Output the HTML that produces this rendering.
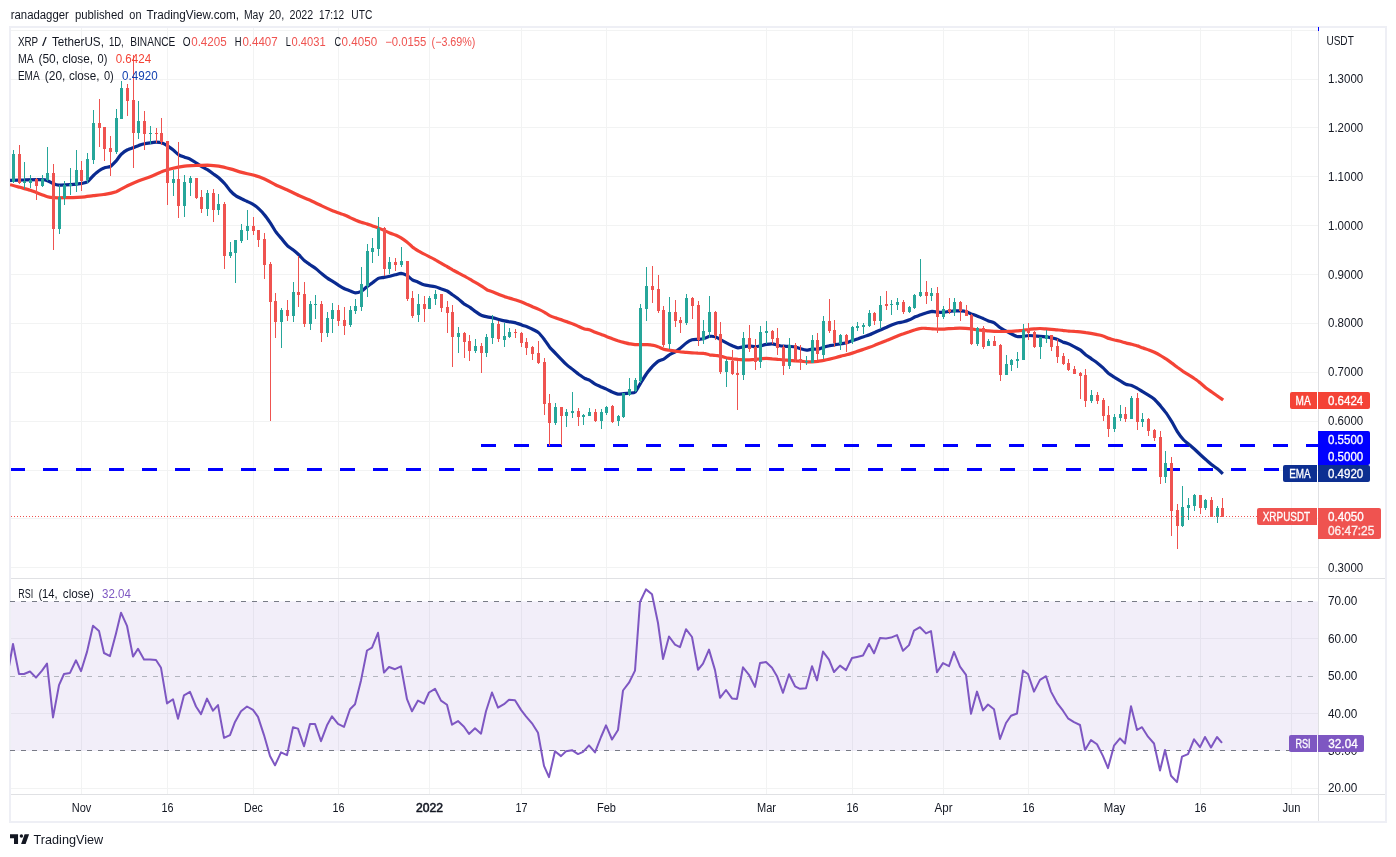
<!DOCTYPE html>
<html><head><meta charset="utf-8"><title>XRP / TetherUS chart</title>
<style>html,body{margin:0;padding:0;background:#fff}body{width:1396px;height:857px;position:relative;overflow:hidden}text{white-space:pre}</style></head>
<body>
<svg width="1396" height="857" viewBox="0 0 1396 857" style="position:absolute;left:0;top:0">
<rect x="10" y="27" width="1376" height="795" fill="#fff" stroke="#eeeff5" stroke-width="2" shape-rendering="crispEdges"/>
<g stroke="#f2f3f3" stroke-width="1" shape-rendering="crispEdges">
<line x1="81.5" y1="28" x2="81.5" y2="578"/>
<line x1="81.5" y1="579" x2="81.5" y2="794"/>
<line x1="167.5" y1="28" x2="167.5" y2="578"/>
<line x1="167.5" y1="579" x2="167.5" y2="794"/>
<line x1="253.5" y1="28" x2="253.5" y2="578"/>
<line x1="253.5" y1="579" x2="253.5" y2="794"/>
<line x1="338.5" y1="28" x2="338.5" y2="578"/>
<line x1="338.5" y1="579" x2="338.5" y2="794"/>
<line x1="429.5" y1="28" x2="429.5" y2="578"/>
<line x1="429.5" y1="579" x2="429.5" y2="794"/>
<line x1="521.5" y1="28" x2="521.5" y2="578"/>
<line x1="521.5" y1="579" x2="521.5" y2="794"/>
<line x1="606.5" y1="28" x2="606.5" y2="578"/>
<line x1="606.5" y1="579" x2="606.5" y2="794"/>
<line x1="766.5" y1="28" x2="766.5" y2="578"/>
<line x1="766.5" y1="579" x2="766.5" y2="794"/>
<line x1="852.5" y1="28" x2="852.5" y2="578"/>
<line x1="852.5" y1="579" x2="852.5" y2="794"/>
<line x1="943.5" y1="28" x2="943.5" y2="578"/>
<line x1="943.5" y1="579" x2="943.5" y2="794"/>
<line x1="1028.5" y1="28" x2="1028.5" y2="578"/>
<line x1="1028.5" y1="579" x2="1028.5" y2="794"/>
<line x1="1114.5" y1="28" x2="1114.5" y2="578"/>
<line x1="1114.5" y1="579" x2="1114.5" y2="794"/>
<line x1="1200.5" y1="28" x2="1200.5" y2="578"/>
<line x1="1200.5" y1="579" x2="1200.5" y2="794"/>
<line x1="1291.5" y1="28" x2="1291.5" y2="578"/>
<line x1="1291.5" y1="579" x2="1291.5" y2="794"/>
<line x1="11" y1="30.5" x2="1318" y2="30.5"/>
<line x1="11" y1="79.5" x2="1318" y2="79.5"/>
<line x1="11" y1="127.5" x2="1318" y2="127.5"/>
<line x1="11" y1="176.5" x2="1318" y2="176.5"/>
<line x1="11" y1="225.5" x2="1318" y2="225.5"/>
<line x1="11" y1="274.5" x2="1318" y2="274.5"/>
<line x1="11" y1="323.5" x2="1318" y2="323.5"/>
<line x1="11" y1="372.5" x2="1318" y2="372.5"/>
<line x1="11" y1="421.5" x2="1318" y2="421.5"/>
<line x1="11" y1="470.5" x2="1318" y2="470.5"/>
<line x1="11" y1="518.5" x2="1318" y2="518.5"/>
<line x1="11" y1="567.5" x2="1318" y2="567.5"/>
<line x1="11" y1="638.5" x2="1318" y2="638.5"/>
<line x1="11" y1="713.5" x2="1318" y2="713.5"/>
<line x1="11" y1="788.5" x2="1318" y2="788.5"/>
</g>
<rect x="11" y="601.4" width="1307" height="149.5" fill="#7e57c2" fill-opacity="0.1"/>
<g shape-rendering="crispEdges" stroke-width="1">
<line x1="10" y1="601.5" x2="1318" y2="601.5" stroke="#787b86" stroke-dasharray="5 6"/>
<line x1="10" y1="676.5" x2="1318" y2="676.5" stroke="#b2b5be" stroke-dasharray="5 6"/>
<line x1="10" y1="750.5" x2="1318" y2="750.5" stroke="#787b86" stroke-dasharray="5 6"/>
</g>
<g stroke="#e0e1e4" stroke-width="1" shape-rendering="crispEdges">
<line x1="11" y1="578.5" x2="1385" y2="578.5"/>
<line x1="11" y1="794.5" x2="1385" y2="794.5"/>
<line x1="1318.5" y1="28" x2="1318.5" y2="821"/>
</g>
<defs><clipPath id="cp"><rect x="10" y="28" width="1308" height="550"/></clipPath><clipPath id="cr"><rect x="10" y="579" width="1308" height="215"/></clipPath></defs>
<g fill="#0000ff" shape-rendering="crispEdges">
<rect x="481" y="444" width="15" height="3"/><rect x="514" y="444" width="15" height="3"/><rect x="547" y="444" width="15" height="3"/><rect x="580" y="444" width="15" height="3"/><rect x="613" y="444" width="15" height="3"/><rect x="646" y="444" width="15" height="3"/><rect x="679" y="444" width="15" height="3"/><rect x="712" y="444" width="15" height="3"/><rect x="745" y="444" width="15" height="3"/><rect x="778" y="444" width="15" height="3"/><rect x="811" y="444" width="15" height="3"/><rect x="844" y="444" width="15" height="3"/><rect x="877" y="444" width="15" height="3"/><rect x="910" y="444" width="15" height="3"/><rect x="943" y="444" width="15" height="3"/><rect x="976" y="444" width="15" height="3"/><rect x="1009" y="444" width="15" height="3"/><rect x="1042" y="444" width="15" height="3"/><rect x="1075" y="444" width="15" height="3"/><rect x="1108" y="444" width="15" height="3"/><rect x="1141" y="444" width="15" height="3"/><rect x="1174" y="444" width="15" height="3"/><rect x="1207" y="444" width="15" height="3"/><rect x="1240" y="444" width="15" height="3"/><rect x="1273" y="444" width="15" height="3"/><rect x="1306" y="444" width="12" height="3"/>
<rect x="11" y="468" width="14" height="3"/><rect x="43" y="468" width="15" height="3"/><rect x="76" y="468" width="15" height="3"/><rect x="109" y="468" width="15" height="3"/><rect x="142" y="468" width="15" height="3"/><rect x="175" y="468" width="15" height="3"/><rect x="208" y="468" width="15" height="3"/><rect x="241" y="468" width="15" height="3"/><rect x="274" y="468" width="15" height="3"/><rect x="307" y="468" width="15" height="3"/><rect x="340" y="468" width="15" height="3"/><rect x="373" y="468" width="15" height="3"/><rect x="406" y="468" width="15" height="3"/><rect x="439" y="468" width="15" height="3"/><rect x="472" y="468" width="15" height="3"/><rect x="505" y="468" width="15" height="3"/><rect x="538" y="468" width="15" height="3"/><rect x="571" y="468" width="15" height="3"/><rect x="604" y="468" width="15" height="3"/><rect x="637" y="468" width="15" height="3"/><rect x="670" y="468" width="15" height="3"/><rect x="703" y="468" width="15" height="3"/><rect x="736" y="468" width="15" height="3"/><rect x="769" y="468" width="15" height="3"/><rect x="802" y="468" width="15" height="3"/><rect x="835" y="468" width="15" height="3"/><rect x="868" y="468" width="15" height="3"/><rect x="901" y="468" width="15" height="3"/><rect x="934" y="468" width="15" height="3"/><rect x="967" y="468" width="15" height="3"/><rect x="1000" y="468" width="15" height="3"/><rect x="1033" y="468" width="15" height="3"/><rect x="1066" y="468" width="15" height="3"/><rect x="1099" y="468" width="15" height="3"/><rect x="1132" y="468" width="15" height="3"/><rect x="1165" y="468" width="15" height="3"/><rect x="1198" y="468" width="15" height="3"/><rect x="1231" y="468" width="15" height="3"/><rect x="1264" y="468" width="15" height="3"/>
</g>
<g clip-path="url(#cp)" fill="none" stroke-linejoin="round" stroke-linecap="butt">
<path d="M10.0,180.4C11.7,180.3 21.1,179.8 25.0,179.8C28.8,179.7 41.8,179.4 44.9,179.8C48.0,180.2 51.3,182.8 52.9,183.4C54.4,184.0 56.9,185.0 58.9,185.1C60.9,185.3 68.3,184.9 70.8,184.7C73.4,184.5 80.0,183.7 81.8,183.4C83.7,183.0 86.1,182.6 87.4,181.8C88.7,180.9 91.9,177.0 93.2,175.8C94.5,174.6 97.7,171.7 99.0,170.8C100.2,169.9 103.3,168.3 104.6,167.8C105.8,167.3 109.1,167.2 110.4,166.5C111.7,165.7 114.9,162.2 116.2,160.8C117.4,159.3 120.5,155.0 121.8,153.8C123.0,152.6 126.3,150.4 127.5,149.8C128.8,149.1 131.9,148.3 133.1,147.8C134.4,147.3 137.7,145.8 138.9,145.4C140.2,145.0 143.2,144.1 144.5,143.8C145.8,143.5 149.0,143.0 150.3,142.8C151.6,142.6 154.8,142.2 156.1,142.2C157.3,142.2 160.4,142.4 161.7,142.8C162.9,143.2 166.2,145.0 167.5,145.8C168.7,146.6 171.8,148.8 173.0,149.8C174.3,150.8 177.5,154.0 178.8,154.8C180.1,155.6 183.3,156.7 184.6,157.2C185.9,157.7 188.9,158.5 190.2,159.2C191.5,159.8 194.7,161.9 196.0,162.8C197.3,163.6 200.5,166.0 201.8,166.7C203.0,167.5 206.1,169.0 207.4,169.7C208.6,170.5 211.9,172.8 213.1,173.7C214.4,174.6 217.4,176.6 218.7,177.7C220.0,178.9 223.7,182.5 225.0,184.0C226.3,185.4 229.2,189.6 230.4,190.9C231.6,192.3 234.7,195.1 236.0,195.9C237.2,196.8 240.5,198.3 241.8,198.9C243.0,199.6 246.1,200.9 247.3,201.5C248.6,202.1 251.8,203.5 253.1,204.3C254.4,205.1 257.7,207.7 258.9,208.9C260.2,210.1 263.2,213.3 264.5,214.9C265.8,216.4 269.0,221.0 270.3,222.9C271.6,224.8 274.6,230.1 275.9,231.9C277.1,233.6 280.4,237.3 281.7,238.8C282.9,240.4 286.2,244.6 287.5,245.8C288.7,247.0 291.8,248.8 293.0,249.8C294.3,250.8 297.5,253.6 298.8,254.8C300.1,256.0 303.3,259.7 304.6,260.8C305.9,261.9 308.9,263.9 310.2,264.8C311.5,265.7 314.7,267.8 316.0,268.8C317.3,269.8 320.5,272.7 321.8,273.8C323.0,274.8 326.1,277.3 327.4,278.1C328.6,279.0 331.9,280.9 333.1,281.7C334.4,282.5 337.5,284.5 338.7,285.3C340.0,286.1 343.3,288.1 344.5,288.7C345.7,289.3 348.6,290.3 349.8,290.8C351.0,291.2 354.1,292.7 355.4,292.8C356.6,292.8 359.9,292.0 361.2,291.4C362.4,290.7 365.7,287.7 366.9,286.8C368.2,285.8 371.3,283.7 372.5,282.8C373.8,281.9 377.1,279.0 378.3,278.4C379.6,277.8 382.6,277.7 383.9,277.4C385.2,277.2 388.4,276.5 389.7,276.2C391.0,275.9 394.0,275.1 395.3,274.8C396.5,274.5 399.8,273.4 401.1,273.4C402.4,273.5 405.6,274.7 406.9,275.4C408.1,276.1 411.2,279.1 412.4,279.8C413.7,280.6 417.0,281.6 418.2,282.2C419.5,282.8 422.5,284.4 423.8,284.8C425.1,285.2 428.3,285.6 429.6,285.8C430.9,286.0 434.1,286.5 435.4,286.8C436.6,287.1 439.7,288.3 441.0,288.8C442.2,289.2 445.5,290.1 446.8,290.8C448.0,291.4 451.3,293.9 452.5,294.8C453.8,295.7 456.9,297.8 458.1,298.8C459.4,299.8 462.6,302.8 463.9,303.8C465.3,304.7 469.0,306.6 470.4,307.6C471.7,308.5 474.7,311.1 476.0,311.9C477.2,312.8 480.5,315.0 481.8,315.5C483.0,316.1 486.1,316.7 487.3,316.9C488.6,317.2 491.8,317.6 493.1,317.9C494.4,318.2 497.7,319.2 498.9,319.5C500.2,319.9 503.2,320.7 504.5,320.9C505.8,321.2 509.0,321.7 510.3,321.9C511.6,322.1 514.6,322.6 515.9,322.9C517.1,323.3 520.4,324.5 521.7,324.9C522.9,325.4 526.2,326.4 527.5,326.9C528.7,327.4 531.8,328.8 533.0,329.5C534.3,330.2 537.5,331.7 538.8,332.9C540.1,334.0 543.3,338.2 544.6,339.9C545.9,341.5 548.9,346.3 550.2,347.9C551.5,349.4 554.7,352.5 556.0,353.8C557.3,355.2 560.5,358.5 561.8,359.8C563.0,361.1 566.1,364.3 567.4,365.4C568.6,366.5 571.9,368.8 573.1,369.8C574.4,370.8 577.5,373.3 578.7,374.2C580.0,375.1 583.3,377.5 584.5,378.2C585.7,378.8 588.2,379.5 589.4,380.1C590.6,380.8 593.9,383.4 595.2,384.1C596.4,384.8 599.5,386.1 600.8,386.7C602.0,387.2 605.3,388.5 606.5,389.1C607.8,389.7 611.1,391.5 612.3,392.1C613.6,392.6 616.7,393.9 617.9,394.1C619.2,394.3 622.4,393.8 623.7,393.7C625.0,393.6 628.2,393.3 629.5,393.1C630.8,392.9 633.8,393.2 635.1,392.1C636.3,390.9 639.6,384.7 640.9,382.7C642.1,380.7 645.2,375.5 646.5,373.7C647.7,371.9 651.0,368.1 652.2,366.7C653.5,365.4 656.8,362.2 658.0,361.4C659.3,360.5 662.3,359.9 663.6,359.2C664.9,358.4 668.1,355.6 669.4,354.8C670.7,353.9 673.9,352.6 675.2,351.8C676.4,351.0 679.5,348.8 680.8,347.8C682.0,346.8 685.3,343.7 686.6,342.8C687.8,341.9 690.9,340.2 692.1,339.8C693.4,339.4 696.6,339.5 697.9,339.4C699.2,339.3 702.4,339.1 703.7,338.8C705.0,338.5 708.1,336.6 709.4,336.4C710.7,336.2 713.9,336.4 715.2,336.8C716.4,337.2 719.5,339.1 720.8,339.8C722.0,340.5 725.3,342.1 726.5,342.8C727.8,343.5 731.1,345.2 732.3,345.8C733.6,346.3 736.7,347.7 737.9,347.8C739.2,347.9 742.4,347.0 743.7,346.8C745.0,346.6 748.0,345.8 749.3,345.8C750.6,345.8 753.8,346.8 755.1,346.8C756.4,346.8 759.6,346.1 760.9,345.8C762.1,345.5 765.2,344.6 766.5,344.4C767.7,344.2 771.0,343.7 772.2,343.8C773.5,343.9 776.6,344.9 777.8,345.2C779.1,345.5 782.3,346.1 783.6,346.2C784.9,346.3 788.1,346.3 789.4,346.4C790.7,346.5 793.7,346.5 795.0,346.8C796.2,347.1 799.5,348.4 800.8,348.8C802.1,349.2 805.3,350.1 806.6,350.2C807.8,350.2 810.9,349.3 812.1,349.2C813.4,349.1 816.6,349.4 817.9,349.2C819.2,349.0 822.4,347.6 823.7,347.2C825.0,346.8 828.3,346.0 829.6,345.7C830.9,345.5 833.9,345.0 835.2,344.7C836.4,344.5 839.7,344.0 841.0,343.8C842.2,343.5 845.3,343.1 846.5,342.8C847.8,342.4 851.0,341.2 852.3,340.8C853.6,340.3 856.9,339.2 858.1,338.8C859.4,338.3 862.4,337.2 863.7,336.8C865.0,336.3 868.2,335.3 869.5,334.8C870.8,334.3 873.8,332.7 875.1,332.2C876.3,331.6 879.6,330.3 880.9,329.8C882.2,329.2 885.4,327.7 886.7,327.2C887.9,326.6 891.0,325.3 892.2,324.8C893.5,324.3 896.8,323.1 898.0,322.8C899.3,322.5 902.3,322.1 903.6,321.8C904.9,321.5 908.1,320.4 909.4,319.8C910.7,319.3 913.9,317.4 915.2,316.8C916.4,316.3 919.5,315.3 920.8,314.8C922.0,314.4 925.3,313.2 926.6,312.8C927.8,312.4 930.9,311.5 932.1,311.4C933.4,311.4 936.7,312.1 937.9,312.2C939.2,312.3 942.3,312.3 943.5,312.2C944.7,312.1 947.4,311.7 948.6,311.5C949.8,311.4 952.9,311.0 954.2,310.9C955.4,310.9 958.7,310.9 960.0,310.9C961.2,311.0 964.3,311.2 965.6,311.5C966.8,311.9 970.1,313.4 971.3,313.9C972.6,314.4 975.9,315.4 977.1,315.9C978.4,316.4 981.4,317.8 982.7,318.3C984.0,318.9 987.2,320.4 988.5,320.9C989.8,321.4 993.0,322.2 994.3,322.9C995.5,323.6 998.6,326.6 999.9,327.5C1001.1,328.4 1004.4,330.2 1005.7,330.9C1006.9,331.6 1010.0,333.2 1011.2,333.9C1012.5,334.5 1015.7,336.2 1017.0,336.5C1018.3,336.8 1021.5,336.6 1022.8,336.5C1024.1,336.4 1027.1,335.5 1028.4,335.5C1029.7,335.4 1032.9,335.8 1034.2,335.9C1035.5,336.0 1038.7,336.2 1040.0,336.3C1041.2,336.4 1044.3,336.7 1045.6,336.9C1046.8,337.0 1050.1,337.6 1051.3,337.9C1052.6,338.1 1055.9,338.8 1057.1,339.3C1058.4,339.7 1061.4,341.3 1062.7,341.9C1064.0,342.4 1067.5,343.4 1068.8,343.9C1070.1,344.5 1073.3,346.3 1074.6,346.9C1075.8,347.6 1078.9,349.0 1080.2,349.9C1081.4,350.8 1084.7,353.9 1085.9,354.9C1087.2,355.9 1090.3,358.0 1091.5,358.9C1092.8,359.8 1096.0,361.9 1097.3,362.9C1098.6,363.9 1101.8,366.7 1103.1,367.9C1104.4,369.1 1107.4,372.4 1108.7,373.5C1110.0,374.5 1113.2,376.4 1114.5,377.3C1115.8,378.1 1119.0,380.1 1120.3,380.9C1121.5,381.6 1124.6,383.7 1125.9,384.2C1127.1,384.8 1130.4,385.0 1131.6,385.4C1132.9,385.9 1136.2,387.7 1137.4,388.4C1138.7,389.1 1141.7,391.1 1143.0,391.8C1144.3,392.6 1147.5,394.6 1148.8,395.4C1150.1,396.2 1153.1,398.0 1154.4,399.2C1155.7,400.4 1159.2,404.4 1160.5,405.9C1161.8,407.5 1164.8,411.2 1166.1,412.9C1167.4,414.7 1170.6,419.8 1171.9,421.9C1173.2,424.0 1176.2,429.9 1177.5,431.9C1178.7,433.8 1182.0,438.1 1183.3,439.5C1184.5,440.8 1187.6,443.2 1188.8,444.3C1190.1,445.3 1193.3,448.1 1194.6,449.2C1195.9,450.4 1199.2,453.7 1200.4,454.8C1201.7,456.0 1204.7,458.7 1206.0,459.8C1207.3,460.9 1210.5,463.8 1211.8,464.8C1213.1,465.8 1216.2,467.8 1217.4,468.8C1218.6,469.8 1222.2,473.2 1222.8,473.8" stroke="#0a2a90" stroke-width="3.2"/>
<path d="M10.0,184.7C11.0,185.0 16.7,186.5 19.0,187.1C21.2,187.8 28.0,189.5 30.5,190.3C33.1,191.2 40.0,194.0 41.9,194.7C43.8,195.4 46.2,196.4 47.5,196.7C48.8,197.1 51.4,197.6 53.3,197.7C55.2,197.8 61.7,197.8 64.9,197.7C68.0,197.7 78.7,197.3 81.8,197.1C85.0,196.9 90.6,196.0 93.2,195.7C95.7,195.4 102.2,194.8 104.8,194.3C107.3,193.9 113.6,192.6 116.2,191.7C118.7,190.7 125.0,186.9 127.5,185.7C130.1,184.5 136.4,181.7 138.9,180.7C141.4,179.7 147.8,177.7 150.3,176.7C152.8,175.7 159.1,172.7 161.7,171.7C164.2,170.8 170.5,169.0 173.0,168.3C175.6,167.7 182.1,166.5 184.6,166.1C187.2,165.8 193.5,165.7 196.0,165.5C198.5,165.4 204.8,165.1 207.4,165.1C209.9,165.2 216.2,165.7 218.7,166.1C221.3,166.6 227.7,168.2 230.3,168.9C232.9,169.6 239.2,171.7 241.8,172.4C244.3,173.1 250.6,174.3 253.1,175.0C255.7,175.7 262.0,177.9 264.5,179.0C267.0,180.1 273.3,183.7 275.9,185.0C278.4,186.2 284.9,188.8 287.5,190.0C290.0,191.1 296.3,194.4 298.8,195.5C301.4,196.7 307.6,199.2 310.2,200.3C312.7,201.5 319.2,204.7 321.8,205.9C324.3,207.1 330.6,209.9 333.1,210.9C335.7,211.9 342.7,214.2 344.5,214.9C346.4,215.6 348.6,216.8 349.8,217.4C351.0,217.9 354.1,219.4 355.4,220.0C356.6,220.5 359.9,221.9 361.2,222.3C362.4,222.8 365.7,223.5 366.9,223.9C368.2,224.3 371.3,225.5 372.5,225.9C373.8,226.4 377.1,227.4 378.3,227.9C379.6,228.4 382.6,229.8 383.9,230.3C385.2,230.9 388.4,232.4 389.7,232.9C391.0,233.4 394.0,234.4 395.3,234.9C396.5,235.5 399.8,237.1 401.1,237.9C402.4,238.7 405.6,240.9 406.9,241.9C408.1,242.9 411.2,245.9 412.4,246.9C413.7,247.9 417.0,250.1 418.2,250.9C419.5,251.7 422.5,253.2 423.8,253.9C425.1,254.5 428.3,256.2 429.6,256.9C430.9,257.5 434.1,259.1 435.4,259.9C436.6,260.6 439.7,262.5 441.0,263.2C442.2,264.0 445.5,265.7 446.8,266.4C448.0,267.2 451.3,269.1 452.5,269.8C453.8,270.5 456.9,272.2 458.1,272.8C459.4,273.5 462.6,275.1 463.9,275.8C465.2,276.5 468.4,278.5 469.7,279.2C471.0,279.9 474.0,281.7 475.3,282.4C476.6,283.1 479.7,284.9 481.1,285.8C482.4,286.6 486.0,289.3 487.3,290.0C488.7,290.7 491.8,291.5 493.1,292.0C494.4,292.5 497.7,293.9 498.9,294.4C500.2,294.9 503.2,296.1 504.5,296.6C505.8,297.0 509.0,298.0 510.3,298.4C511.6,298.8 514.6,299.6 515.9,300.0C517.1,300.4 520.4,301.5 521.7,302.0C522.9,302.5 526.2,304.0 527.5,304.6C528.7,305.1 531.8,306.4 533.0,307.0C534.3,307.5 537.5,308.8 538.8,309.4C540.1,310.0 543.3,311.6 544.6,312.3C545.9,313.1 548.9,315.3 550.2,315.9C551.5,316.6 554.7,317.5 556.0,317.9C557.3,318.4 560.5,319.5 561.8,319.9C563.0,320.4 566.1,321.5 567.4,321.9C568.6,322.4 571.9,323.4 573.1,323.9C574.4,324.4 577.5,326.0 578.7,326.5C580.0,327.1 583.3,328.5 584.5,328.9C585.7,329.3 588.2,329.5 589.4,329.8C590.6,330.2 593.9,331.7 595.2,332.2C596.4,332.7 599.5,333.8 600.8,334.2C602.0,334.7 605.3,335.9 606.5,336.4C607.8,336.9 611.1,338.3 612.3,338.8C613.6,339.3 616.7,340.4 617.9,340.8C619.2,341.2 622.4,342.1 623.7,342.4C625.0,342.7 628.2,343.6 629.5,343.8C630.8,344.0 633.8,344.5 635.1,344.6C636.3,344.7 639.6,344.6 640.9,344.6C642.1,344.6 645.2,344.5 646.5,344.6C647.7,344.7 651.0,344.9 652.2,345.2C653.5,345.4 656.8,346.3 658.0,346.8C659.3,347.2 662.3,348.8 663.6,349.2C664.9,349.6 668.1,350.0 669.4,350.2C670.7,350.4 673.9,351.0 675.2,351.2C676.4,351.4 679.5,351.6 680.8,351.8C682.0,351.9 685.3,352.3 686.6,352.4C687.8,352.5 690.9,352.7 692.1,352.8C693.4,352.9 696.6,353.1 697.9,353.2C699.2,353.2 702.4,353.2 703.7,353.4C705.0,353.5 708.1,354.5 709.4,354.8C710.7,355.0 713.9,355.2 715.2,355.4C716.4,355.5 719.5,356.1 720.8,356.4C722.0,356.6 725.3,357.5 726.5,357.8C727.8,358.0 731.1,358.6 732.3,358.8C733.6,358.9 736.7,359.2 737.9,359.4C739.2,359.5 742.4,359.7 743.7,359.8C745.0,359.8 748.0,359.8 749.3,359.8C750.6,359.7 753.8,359.5 755.1,359.4C756.4,359.2 759.6,358.9 760.9,358.8C762.1,358.6 765.2,358.4 766.5,358.4C767.7,358.4 771.0,358.6 772.2,358.8C773.5,358.9 776.6,359.2 777.8,359.4C779.1,359.5 782.3,359.6 783.6,359.8C784.9,359.9 788.1,360.2 789.4,360.4C790.7,360.5 793.7,360.7 795.0,360.8C796.2,360.8 799.5,361.0 800.8,361.2C802.1,361.3 805.3,361.7 806.6,361.8C807.8,361.8 810.9,361.8 812.1,361.8C813.4,361.7 816.6,361.5 817.9,361.4C819.2,361.2 822.4,360.6 823.7,360.4C825.0,360.1 828.3,359.4 829.6,359.1C830.9,358.8 833.9,358.1 835.2,357.7C836.4,357.4 839.7,356.5 841.0,356.1C842.2,355.8 845.3,355.1 846.5,354.7C847.8,354.4 851.0,353.5 852.3,353.1C853.6,352.7 856.9,351.6 858.1,351.1C859.4,350.7 862.4,349.8 863.7,349.3C865.0,348.9 868.2,347.8 869.5,347.3C870.8,346.9 873.8,345.7 875.1,345.1C876.3,344.6 879.6,343.3 880.9,342.8C882.2,342.2 885.4,340.9 886.7,340.4C887.9,339.8 891.0,338.7 892.2,338.2C893.5,337.7 896.8,336.3 898.0,335.8C899.3,335.3 902.3,334.2 903.6,333.8C904.9,333.3 908.1,332.2 909.4,331.8C910.7,331.3 913.9,330.2 915.2,329.8C916.4,329.4 919.5,328.5 920.8,328.4C922.0,328.2 925.3,328.3 926.6,328.4C927.8,328.4 930.9,328.7 932.1,328.8C933.4,328.9 936.7,329.1 937.9,329.2C939.2,329.2 942.3,329.2 943.5,329.2C944.7,329.1 947.4,328.8 948.6,328.7C949.8,328.6 952.3,328.3 954.2,328.3C956.1,328.2 963.6,328.2 965.6,328.3C967.5,328.4 970.1,328.7 971.3,328.9C972.6,329.1 975.9,329.7 977.1,329.9C978.4,330.0 981.4,330.2 982.7,330.3C984.0,330.4 987.2,330.8 988.5,330.9C989.8,331.0 993.0,331.2 994.3,331.3C995.5,331.3 998.6,331.5 999.9,331.5C1001.1,331.5 1004.4,331.5 1005.7,331.5C1006.9,331.5 1010.0,331.3 1011.2,331.3C1012.5,331.2 1015.7,331.0 1017.0,330.9C1018.3,330.8 1021.5,330.4 1022.8,330.3C1024.1,330.1 1027.1,329.6 1028.4,329.5C1029.7,329.3 1032.9,329.0 1034.2,328.9C1035.5,328.8 1038.7,328.5 1040.0,328.5C1041.2,328.5 1044.3,328.8 1045.6,328.9C1046.8,329.0 1050.1,329.2 1051.3,329.3C1052.6,329.4 1055.9,329.8 1057.1,329.9C1058.4,330.0 1061.4,330.1 1062.7,330.3C1064.0,330.4 1067.5,331.1 1068.8,331.2C1070.1,331.3 1072.7,331.2 1074.6,331.4C1076.5,331.5 1083.4,332.2 1085.9,332.6C1088.5,332.9 1095.4,334.2 1097.3,334.6C1099.2,334.9 1101.8,335.5 1103.1,336.0C1104.4,336.4 1107.4,337.9 1108.7,338.4C1110.0,338.8 1113.2,339.6 1114.5,340.0C1115.8,340.3 1119.0,341.0 1120.3,341.3C1121.5,341.7 1124.6,342.6 1125.9,342.9C1127.1,343.3 1130.4,344.0 1131.6,344.3C1132.9,344.7 1136.2,345.5 1137.4,345.9C1138.7,346.3 1141.7,347.5 1143.0,347.9C1144.3,348.4 1147.5,349.4 1148.8,349.9C1150.1,350.4 1153.1,351.7 1154.4,352.3C1155.6,352.9 1158.9,354.6 1160.2,355.3C1161.5,356.0 1164.7,358.1 1166.0,358.9C1167.2,359.7 1170.3,362.0 1171.5,362.9C1172.8,363.8 1176.1,366.4 1177.3,367.3C1178.6,368.2 1181.7,370.4 1182.9,371.3C1184.2,372.1 1187.4,374.1 1188.7,374.9C1190.0,375.7 1193.0,377.6 1194.3,378.5C1195.6,379.3 1198.8,381.8 1200.1,382.8C1201.4,383.9 1204.7,387.0 1206.0,388.0C1207.3,389.0 1210.5,391.1 1211.8,392.0C1213.1,392.9 1216.1,395.1 1217.4,396.0C1218.6,396.9 1222.5,399.5 1223.2,400.0" stroke="#f44336" stroke-width="3.2"/>
</g>
<g clip-path="url(#cp)" shape-rendering="crispEdges">
<rect x="13" y="150" width="1" height="33" fill="#26a69a"/><rect x="12" y="154" width="3" height="28" fill="#26a69a"/>
<rect x="19" y="145" width="1" height="39" fill="#ef5350"/><rect x="18" y="154" width="3" height="29" fill="#ef5350"/>
<rect x="24" y="162" width="1" height="27" fill="#26a69a"/><rect x="23" y="181" width="3" height="2" fill="#26a69a"/>
<rect x="30" y="175" width="1" height="13" fill="#26a69a"/><rect x="29" y="180" width="3" height="3" fill="#26a69a"/>
<rect x="36" y="178" width="1" height="22" fill="#ef5350"/><rect x="35" y="179" width="3" height="7" fill="#ef5350"/>
<rect x="42" y="175" width="1" height="12" fill="#26a69a"/><rect x="41" y="179" width="3" height="7" fill="#26a69a"/>
<rect x="47" y="147" width="1" height="34" fill="#26a69a"/><rect x="46" y="173" width="3" height="7" fill="#26a69a"/>
<rect x="53" y="164" width="1" height="86" fill="#ef5350"/><rect x="52" y="173" width="3" height="56" fill="#ef5350"/>
<rect x="59" y="185" width="1" height="49" fill="#26a69a"/><rect x="58" y="197" width="3" height="32" fill="#26a69a"/>
<rect x="64" y="181" width="1" height="24" fill="#26a69a"/><rect x="63" y="185" width="3" height="13" fill="#26a69a"/>
<rect x="70" y="168" width="1" height="27" fill="#26a69a"/><rect x="69" y="184" width="3" height="2" fill="#26a69a"/>
<rect x="76" y="150" width="1" height="42" fill="#26a69a"/><rect x="75" y="170" width="3" height="15" fill="#26a69a"/>
<rect x="81" y="161" width="1" height="30" fill="#ef5350"/><rect x="80" y="170" width="3" height="11" fill="#ef5350"/>
<rect x="87" y="153" width="1" height="30" fill="#26a69a"/><rect x="86" y="159" width="3" height="21" fill="#26a69a"/>
<rect x="93" y="110" width="1" height="54" fill="#26a69a"/><rect x="92" y="123" width="3" height="37" fill="#26a69a"/>
<rect x="99" y="99" width="1" height="48" fill="#ef5350"/><rect x="98" y="123" width="3" height="5" fill="#ef5350"/>
<rect x="104" y="127" width="1" height="34" fill="#ef5350"/><rect x="103" y="127" width="3" height="22" fill="#ef5350"/>
<rect x="110" y="136" width="1" height="40" fill="#ef5350"/><rect x="109" y="148" width="3" height="4" fill="#ef5350"/>
<rect x="116" y="109" width="1" height="45" fill="#26a69a"/><rect x="115" y="118" width="3" height="34" fill="#26a69a"/>
<rect x="121" y="81" width="1" height="38" fill="#26a69a"/><rect x="120" y="88" width="3" height="31" fill="#26a69a"/>
<rect x="127" y="84" width="1" height="32" fill="#ef5350"/><rect x="126" y="88" width="3" height="13" fill="#ef5350"/>
<rect x="133" y="55" width="1" height="113" fill="#ef5350"/><rect x="132" y="100" width="3" height="33" fill="#ef5350"/>
<rect x="138" y="101" width="1" height="38" fill="#26a69a"/><rect x="137" y="121" width="3" height="12" fill="#26a69a"/>
<rect x="144" y="111" width="1" height="39" fill="#ef5350"/><rect x="143" y="121" width="3" height="13" fill="#ef5350"/>
<rect x="150" y="126" width="1" height="18" fill="#26a69a"/><rect x="149" y="133" width="3" height="1" fill="#26a69a"/>
<rect x="156" y="128" width="1" height="15" fill="#ef5350"/><rect x="155" y="133" width="3" height="1" fill="#ef5350"/>
<rect x="161" y="118" width="1" height="27" fill="#ef5350"/><rect x="160" y="133" width="3" height="9" fill="#ef5350"/>
<rect x="167" y="141" width="1" height="64" fill="#ef5350"/><rect x="166" y="141" width="3" height="42" fill="#ef5350"/>
<rect x="173" y="170" width="1" height="26" fill="#26a69a"/><rect x="172" y="179" width="3" height="4" fill="#26a69a"/>
<rect x="178" y="142" width="1" height="76" fill="#ef5350"/><rect x="177" y="179" width="3" height="27" fill="#ef5350"/>
<rect x="184" y="175" width="1" height="42" fill="#26a69a"/><rect x="183" y="182" width="3" height="24" fill="#26a69a"/>
<rect x="190" y="176" width="1" height="20" fill="#26a69a"/><rect x="189" y="178" width="3" height="5" fill="#26a69a"/>
<rect x="196" y="178" width="1" height="21" fill="#ef5350"/><rect x="195" y="178" width="3" height="20" fill="#ef5350"/>
<rect x="201" y="190" width="1" height="23" fill="#ef5350"/><rect x="200" y="197" width="3" height="12" fill="#ef5350"/>
<rect x="207" y="190" width="1" height="26" fill="#26a69a"/><rect x="206" y="193" width="3" height="16" fill="#26a69a"/>
<rect x="213" y="189" width="1" height="33" fill="#ef5350"/><rect x="212" y="193" width="3" height="17" fill="#ef5350"/>
<rect x="218" y="194" width="1" height="21" fill="#26a69a"/><rect x="217" y="204" width="3" height="6" fill="#26a69a"/>
<rect x="224" y="202" width="1" height="67" fill="#ef5350"/><rect x="223" y="204" width="3" height="52" fill="#ef5350"/>
<rect x="230" y="242" width="1" height="16" fill="#26a69a"/><rect x="229" y="252" width="3" height="4" fill="#26a69a"/>
<rect x="235" y="240" width="1" height="43" fill="#26a69a"/><rect x="234" y="240" width="3" height="13" fill="#26a69a"/>
<rect x="241" y="224" width="1" height="19" fill="#26a69a"/><rect x="240" y="230" width="3" height="11" fill="#26a69a"/>
<rect x="247" y="210" width="1" height="30" fill="#26a69a"/><rect x="246" y="226" width="3" height="5" fill="#26a69a"/>
<rect x="253" y="217" width="1" height="18" fill="#ef5350"/><rect x="252" y="226" width="3" height="5" fill="#ef5350"/>
<rect x="258" y="230" width="1" height="17" fill="#ef5350"/><rect x="257" y="230" width="3" height="10" fill="#ef5350"/>
<rect x="264" y="233" width="1" height="46" fill="#ef5350"/><rect x="263" y="239" width="3" height="26" fill="#ef5350"/>
<rect x="270" y="262" width="1" height="159" fill="#ef5350"/><rect x="269" y="264" width="3" height="38" fill="#ef5350"/>
<rect x="275" y="293" width="1" height="45" fill="#ef5350"/><rect x="274" y="301" width="3" height="21" fill="#ef5350"/>
<rect x="281" y="308" width="1" height="40" fill="#26a69a"/><rect x="280" y="310" width="3" height="12" fill="#26a69a"/>
<rect x="287" y="300" width="1" height="21" fill="#ef5350"/><rect x="286" y="310" width="3" height="6" fill="#ef5350"/>
<rect x="293" y="282" width="1" height="40" fill="#26a69a"/><rect x="292" y="292" width="3" height="24" fill="#26a69a"/>
<rect x="298" y="256" width="1" height="51" fill="#ef5350"/><rect x="297" y="292" width="3" height="3" fill="#ef5350"/>
<rect x="304" y="282" width="1" height="45" fill="#ef5350"/><rect x="303" y="294" width="3" height="30" fill="#ef5350"/>
<rect x="310" y="301" width="1" height="29" fill="#26a69a"/><rect x="309" y="304" width="3" height="20" fill="#26a69a"/>
<rect x="315" y="295" width="1" height="24" fill="#26a69a"/><rect x="314" y="304" width="3" height="1" fill="#26a69a"/>
<rect x="321" y="301" width="1" height="41" fill="#ef5350"/><rect x="320" y="304" width="3" height="29" fill="#ef5350"/>
<rect x="327" y="312" width="1" height="25" fill="#26a69a"/><rect x="326" y="318" width="3" height="15" fill="#26a69a"/>
<rect x="332" y="303" width="1" height="30" fill="#26a69a"/><rect x="331" y="310" width="3" height="9" fill="#26a69a"/>
<rect x="338" y="305" width="1" height="21" fill="#ef5350"/><rect x="337" y="310" width="3" height="11" fill="#ef5350"/>
<rect x="344" y="307" width="1" height="28" fill="#ef5350"/><rect x="343" y="320" width="3" height="6" fill="#ef5350"/>
<rect x="350" y="306" width="1" height="21" fill="#26a69a"/><rect x="349" y="310" width="3" height="15" fill="#26a69a"/>
<rect x="355" y="299" width="1" height="15" fill="#26a69a"/><rect x="354" y="306" width="3" height="5" fill="#26a69a"/>
<rect x="361" y="267" width="1" height="44" fill="#26a69a"/><rect x="360" y="284" width="3" height="23" fill="#26a69a"/>
<rect x="367" y="244" width="1" height="53" fill="#26a69a"/><rect x="366" y="251" width="3" height="35" fill="#26a69a"/>
<rect x="372" y="238" width="1" height="25" fill="#26a69a"/><rect x="371" y="248" width="3" height="4" fill="#26a69a"/>
<rect x="378" y="217" width="1" height="39" fill="#26a69a"/><rect x="377" y="228" width="3" height="21" fill="#26a69a"/>
<rect x="384" y="227" width="1" height="49" fill="#ef5350"/><rect x="383" y="228" width="3" height="41" fill="#ef5350"/>
<rect x="389" y="257" width="1" height="17" fill="#26a69a"/><rect x="388" y="262" width="3" height="7" fill="#26a69a"/>
<rect x="395" y="258" width="1" height="13" fill="#ef5350"/><rect x="394" y="262" width="3" height="3" fill="#ef5350"/>
<rect x="401" y="247" width="1" height="20" fill="#26a69a"/><rect x="400" y="261" width="3" height="4" fill="#26a69a"/>
<rect x="407" y="261" width="1" height="40" fill="#ef5350"/><rect x="406" y="261" width="3" height="38" fill="#ef5350"/>
<rect x="412" y="291" width="1" height="27" fill="#ef5350"/><rect x="411" y="298" width="3" height="18" fill="#ef5350"/>
<rect x="418" y="294" width="1" height="28" fill="#26a69a"/><rect x="417" y="304" width="3" height="11" fill="#26a69a"/>
<rect x="424" y="296" width="1" height="26" fill="#ef5350"/><rect x="423" y="304" width="3" height="5" fill="#ef5350"/>
<rect x="429" y="296" width="1" height="13" fill="#26a69a"/><rect x="428" y="298" width="3" height="11" fill="#26a69a"/>
<rect x="435" y="290" width="1" height="15" fill="#26a69a"/><rect x="434" y="294" width="3" height="5" fill="#26a69a"/>
<rect x="441" y="294" width="1" height="18" fill="#ef5350"/><rect x="440" y="294" width="3" height="14" fill="#ef5350"/>
<rect x="447" y="301" width="1" height="32" fill="#ef5350"/><rect x="446" y="307" width="3" height="6" fill="#ef5350"/>
<rect x="452" y="305" width="1" height="62" fill="#ef5350"/><rect x="451" y="312" width="3" height="25" fill="#ef5350"/>
<rect x="458" y="327" width="1" height="26" fill="#26a69a"/><rect x="457" y="333" width="3" height="4" fill="#26a69a"/>
<rect x="464" y="332" width="1" height="26" fill="#ef5350"/><rect x="463" y="333" width="3" height="9" fill="#ef5350"/>
<rect x="469" y="335" width="1" height="26" fill="#ef5350"/><rect x="468" y="341" width="3" height="10" fill="#ef5350"/>
<rect x="475" y="339" width="1" height="14" fill="#26a69a"/><rect x="474" y="346" width="3" height="5" fill="#26a69a"/>
<rect x="481" y="343" width="1" height="30" fill="#ef5350"/><rect x="480" y="346" width="3" height="7" fill="#ef5350"/>
<rect x="486" y="334" width="1" height="23" fill="#26a69a"/><rect x="485" y="337" width="3" height="16" fill="#26a69a"/>
<rect x="492" y="315" width="1" height="29" fill="#26a69a"/><rect x="491" y="323" width="3" height="15" fill="#26a69a"/>
<rect x="498" y="321" width="1" height="21" fill="#ef5350"/><rect x="497" y="324" width="3" height="15" fill="#ef5350"/>
<rect x="504" y="323" width="1" height="24" fill="#26a69a"/><rect x="503" y="336" width="3" height="4" fill="#26a69a"/>
<rect x="509" y="328" width="1" height="10" fill="#26a69a"/><rect x="508" y="332" width="3" height="5" fill="#26a69a"/>
<rect x="515" y="329" width="1" height="9" fill="#ef5350"/><rect x="514" y="332" width="3" height="1" fill="#ef5350"/>
<rect x="521" y="332" width="1" height="15" fill="#ef5350"/><rect x="520" y="333" width="3" height="10" fill="#ef5350"/>
<rect x="526" y="338" width="1" height="17" fill="#ef5350"/><rect x="525" y="342" width="3" height="6" fill="#ef5350"/>
<rect x="532" y="346" width="1" height="14" fill="#ef5350"/><rect x="531" y="347" width="3" height="7" fill="#ef5350"/>
<rect x="538" y="341" width="1" height="23" fill="#ef5350"/><rect x="537" y="353" width="3" height="10" fill="#ef5350"/>
<rect x="544" y="358" width="1" height="57" fill="#ef5350"/><rect x="543" y="362" width="3" height="42" fill="#ef5350"/>
<rect x="549" y="394" width="1" height="52" fill="#ef5350"/><rect x="548" y="403" width="3" height="20" fill="#ef5350"/>
<rect x="555" y="403" width="1" height="22" fill="#26a69a"/><rect x="554" y="407" width="3" height="16" fill="#26a69a"/>
<rect x="561" y="407" width="1" height="38" fill="#ef5350"/><rect x="560" y="407" width="3" height="9" fill="#ef5350"/>
<rect x="566" y="409" width="1" height="18" fill="#26a69a"/><rect x="565" y="412" width="3" height="4" fill="#26a69a"/>
<rect x="572" y="392" width="1" height="26" fill="#26a69a"/><rect x="571" y="411" width="3" height="2" fill="#26a69a"/>
<rect x="578" y="408" width="1" height="18" fill="#ef5350"/><rect x="577" y="411" width="3" height="6" fill="#ef5350"/>
<rect x="583" y="414" width="1" height="11" fill="#26a69a"/><rect x="582" y="415" width="3" height="2" fill="#26a69a"/>
<rect x="589" y="408" width="1" height="8" fill="#26a69a"/><rect x="588" y="412" width="3" height="4" fill="#26a69a"/>
<rect x="595" y="409" width="1" height="13" fill="#ef5350"/><rect x="594" y="412" width="3" height="9" fill="#ef5350"/>
<rect x="601" y="409" width="1" height="20" fill="#26a69a"/><rect x="600" y="412" width="3" height="9" fill="#26a69a"/>
<rect x="606" y="406" width="1" height="9" fill="#26a69a"/><rect x="605" y="407" width="3" height="6" fill="#26a69a"/>
<rect x="612" y="405" width="1" height="18" fill="#ef5350"/><rect x="611" y="406" width="3" height="16" fill="#ef5350"/>
<rect x="618" y="415" width="1" height="11" fill="#26a69a"/><rect x="617" y="416" width="3" height="5" fill="#26a69a"/>
<rect x="623" y="393" width="1" height="25" fill="#26a69a"/><rect x="622" y="393" width="3" height="24" fill="#26a69a"/>
<rect x="629" y="378" width="1" height="18" fill="#26a69a"/><rect x="628" y="389" width="3" height="6" fill="#26a69a"/>
<rect x="635" y="378" width="1" height="14" fill="#26a69a"/><rect x="634" y="380" width="3" height="11" fill="#26a69a"/>
<rect x="640" y="304" width="1" height="79" fill="#26a69a"/><rect x="639" y="308" width="3" height="73" fill="#26a69a"/>
<rect x="646" y="267" width="1" height="54" fill="#26a69a"/><rect x="645" y="286" width="3" height="23" fill="#26a69a"/>
<rect x="652" y="266" width="1" height="37" fill="#ef5350"/><rect x="651" y="286" width="3" height="4" fill="#ef5350"/>
<rect x="658" y="275" width="1" height="38" fill="#ef5350"/><rect x="657" y="289" width="3" height="22" fill="#ef5350"/>
<rect x="663" y="306" width="1" height="41" fill="#ef5350"/><rect x="662" y="310" width="3" height="35" fill="#ef5350"/>
<rect x="669" y="297" width="1" height="52" fill="#26a69a"/><rect x="668" y="312" width="3" height="32" fill="#26a69a"/>
<rect x="675" y="300" width="1" height="27" fill="#ef5350"/><rect x="674" y="312" width="3" height="9" fill="#ef5350"/>
<rect x="680" y="317" width="1" height="16" fill="#ef5350"/><rect x="679" y="320" width="3" height="3" fill="#ef5350"/>
<rect x="686" y="294" width="1" height="31" fill="#26a69a"/><rect x="685" y="298" width="3" height="25" fill="#26a69a"/>
<rect x="692" y="297" width="1" height="22" fill="#ef5350"/><rect x="691" y="298" width="3" height="8" fill="#ef5350"/>
<rect x="698" y="301" width="1" height="45" fill="#ef5350"/><rect x="697" y="305" width="3" height="35" fill="#ef5350"/>
<rect x="703" y="320" width="1" height="24" fill="#26a69a"/><rect x="702" y="331" width="3" height="9" fill="#26a69a"/>
<rect x="709" y="296" width="1" height="42" fill="#26a69a"/><rect x="708" y="312" width="3" height="20" fill="#26a69a"/>
<rect x="715" y="311" width="1" height="29" fill="#ef5350"/><rect x="714" y="312" width="3" height="24" fill="#ef5350"/>
<rect x="720" y="322" width="1" height="52" fill="#ef5350"/><rect x="719" y="334" width="3" height="38" fill="#ef5350"/>
<rect x="726" y="359" width="1" height="28" fill="#26a69a"/><rect x="725" y="361" width="3" height="11" fill="#26a69a"/>
<rect x="732" y="350" width="1" height="25" fill="#ef5350"/><rect x="731" y="361" width="3" height="13" fill="#ef5350"/>
<rect x="737" y="361" width="1" height="49" fill="#ef5350"/><rect x="736" y="373" width="3" height="2" fill="#ef5350"/>
<rect x="743" y="332" width="1" height="48" fill="#26a69a"/><rect x="742" y="338" width="3" height="37" fill="#26a69a"/>
<rect x="749" y="325" width="1" height="27" fill="#ef5350"/><rect x="748" y="338" width="3" height="11" fill="#ef5350"/>
<rect x="755" y="339" width="1" height="31" fill="#ef5350"/><rect x="754" y="347" width="3" height="15" fill="#ef5350"/>
<rect x="760" y="326" width="1" height="42" fill="#26a69a"/><rect x="759" y="332" width="3" height="30" fill="#26a69a"/>
<rect x="766" y="321" width="1" height="23" fill="#26a69a"/><rect x="765" y="331" width="3" height="2" fill="#26a69a"/>
<rect x="772" y="330" width="1" height="14" fill="#ef5350"/><rect x="771" y="331" width="3" height="8" fill="#ef5350"/>
<rect x="777" y="328" width="1" height="27" fill="#ef5350"/><rect x="776" y="338" width="3" height="10" fill="#ef5350"/>
<rect x="783" y="345" width="1" height="30" fill="#ef5350"/><rect x="782" y="347" width="3" height="19" fill="#ef5350"/>
<rect x="789" y="338" width="1" height="31" fill="#26a69a"/><rect x="788" y="345" width="3" height="21" fill="#26a69a"/>
<rect x="795" y="343" width="1" height="19" fill="#ef5350"/><rect x="794" y="345" width="3" height="15" fill="#ef5350"/>
<rect x="800" y="345" width="1" height="25" fill="#ef5350"/><rect x="799" y="359" width="3" height="3" fill="#ef5350"/>
<rect x="806" y="356" width="1" height="9" fill="#26a69a"/><rect x="805" y="361" width="3" height="1" fill="#26a69a"/>
<rect x="812" y="335" width="1" height="28" fill="#26a69a"/><rect x="811" y="340" width="3" height="23" fill="#26a69a"/>
<rect x="817" y="333" width="1" height="27" fill="#ef5350"/><rect x="816" y="340" width="3" height="14" fill="#ef5350"/>
<rect x="823" y="316" width="1" height="43" fill="#26a69a"/><rect x="822" y="321" width="3" height="34" fill="#26a69a"/>
<rect x="829" y="299" width="1" height="34" fill="#ef5350"/><rect x="828" y="321" width="3" height="10" fill="#ef5350"/>
<rect x="834" y="320" width="1" height="27" fill="#ef5350"/><rect x="833" y="330" width="3" height="13" fill="#ef5350"/>
<rect x="840" y="334" width="1" height="16" fill="#26a69a"/><rect x="839" y="335" width="3" height="9" fill="#26a69a"/>
<rect x="846" y="334" width="1" height="18" fill="#ef5350"/><rect x="845" y="335" width="3" height="9" fill="#ef5350"/>
<rect x="852" y="326" width="1" height="18" fill="#26a69a"/><rect x="851" y="327" width="3" height="15" fill="#26a69a"/>
<rect x="857" y="322" width="1" height="9" fill="#26a69a"/><rect x="856" y="326" width="3" height="2" fill="#26a69a"/>
<rect x="863" y="323" width="1" height="11" fill="#26a69a"/><rect x="862" y="325" width="3" height="2" fill="#26a69a"/>
<rect x="869" y="310" width="1" height="17" fill="#26a69a"/><rect x="868" y="313" width="3" height="13" fill="#26a69a"/>
<rect x="874" y="312" width="1" height="13" fill="#ef5350"/><rect x="873" y="313" width="3" height="8" fill="#ef5350"/>
<rect x="880" y="296" width="1" height="33" fill="#26a69a"/><rect x="879" y="305" width="3" height="16" fill="#26a69a"/>
<rect x="886" y="291" width="1" height="19" fill="#ef5350"/><rect x="885" y="304" width="3" height="2" fill="#ef5350"/>
<rect x="891" y="300" width="1" height="15" fill="#26a69a"/><rect x="890" y="304" width="3" height="1" fill="#26a69a"/>
<rect x="897" y="298" width="1" height="12" fill="#26a69a"/><rect x="896" y="302" width="3" height="3" fill="#26a69a"/>
<rect x="903" y="300" width="1" height="14" fill="#ef5350"/><rect x="902" y="302" width="3" height="10" fill="#ef5350"/>
<rect x="909" y="306" width="1" height="7" fill="#26a69a"/><rect x="908" y="307" width="3" height="5" fill="#26a69a"/>
<rect x="914" y="294" width="1" height="15" fill="#26a69a"/><rect x="913" y="295" width="3" height="13" fill="#26a69a"/>
<rect x="920" y="259" width="1" height="38" fill="#26a69a"/><rect x="919" y="292" width="3" height="4" fill="#26a69a"/>
<rect x="926" y="281" width="1" height="23" fill="#ef5350"/><rect x="925" y="292" width="3" height="4" fill="#ef5350"/>
<rect x="931" y="288" width="1" height="13" fill="#26a69a"/><rect x="930" y="293" width="3" height="3" fill="#26a69a"/>
<rect x="937" y="287" width="1" height="46" fill="#ef5350"/><rect x="936" y="293" width="3" height="24" fill="#ef5350"/>
<rect x="943" y="306" width="1" height="13" fill="#26a69a"/><rect x="942" y="309" width="3" height="8" fill="#26a69a"/>
<rect x="949" y="298" width="1" height="16" fill="#ef5350"/><rect x="948" y="309" width="3" height="3" fill="#ef5350"/>
<rect x="954" y="298" width="1" height="18" fill="#26a69a"/><rect x="953" y="302" width="3" height="10" fill="#26a69a"/>
<rect x="960" y="301" width="1" height="20" fill="#ef5350"/><rect x="959" y="302" width="3" height="9" fill="#ef5350"/>
<rect x="966" y="305" width="1" height="11" fill="#ef5350"/><rect x="965" y="310" width="3" height="6" fill="#ef5350"/>
<rect x="971" y="314" width="1" height="31" fill="#ef5350"/><rect x="970" y="315" width="3" height="29" fill="#ef5350"/>
<rect x="977" y="327" width="1" height="19" fill="#26a69a"/><rect x="976" y="328" width="3" height="16" fill="#26a69a"/>
<rect x="983" y="326" width="1" height="23" fill="#ef5350"/><rect x="982" y="328" width="3" height="19" fill="#ef5350"/>
<rect x="988" y="339" width="1" height="7" fill="#26a69a"/><rect x="987" y="341" width="3" height="5" fill="#26a69a"/>
<rect x="994" y="336" width="1" height="10" fill="#ef5350"/><rect x="993" y="341" width="3" height="5" fill="#ef5350"/>
<rect x="1000" y="344" width="1" height="37" fill="#ef5350"/><rect x="999" y="345" width="3" height="30" fill="#ef5350"/>
<rect x="1006" y="355" width="1" height="20" fill="#26a69a"/><rect x="1005" y="364" width="3" height="11" fill="#26a69a"/>
<rect x="1011" y="359" width="1" height="12" fill="#26a69a"/><rect x="1010" y="360" width="3" height="5" fill="#26a69a"/>
<rect x="1017" y="352" width="1" height="16" fill="#26a69a"/><rect x="1016" y="359" width="3" height="2" fill="#26a69a"/>
<rect x="1023" y="324" width="1" height="36" fill="#26a69a"/><rect x="1022" y="330" width="3" height="30" fill="#26a69a"/>
<rect x="1028" y="323" width="1" height="17" fill="#ef5350"/><rect x="1027" y="330" width="3" height="3" fill="#ef5350"/>
<rect x="1034" y="331" width="1" height="17" fill="#ef5350"/><rect x="1033" y="332" width="3" height="15" fill="#ef5350"/>
<rect x="1040" y="337" width="1" height="22" fill="#26a69a"/><rect x="1039" y="337" width="3" height="10" fill="#26a69a"/>
<rect x="1046" y="330" width="1" height="13" fill="#26a69a"/><rect x="1045" y="335" width="3" height="4" fill="#26a69a"/>
<rect x="1051" y="335" width="1" height="16" fill="#ef5350"/><rect x="1050" y="335" width="3" height="12" fill="#ef5350"/>
<rect x="1057" y="339" width="1" height="24" fill="#ef5350"/><rect x="1056" y="346" width="3" height="11" fill="#ef5350"/>
<rect x="1063" y="353" width="1" height="12" fill="#ef5350"/><rect x="1062" y="356" width="3" height="8" fill="#ef5350"/>
<rect x="1068" y="359" width="1" height="12" fill="#ef5350"/><rect x="1067" y="363" width="3" height="7" fill="#ef5350"/>
<rect x="1074" y="366" width="1" height="8" fill="#ef5350"/><rect x="1073" y="369" width="3" height="5" fill="#ef5350"/>
<rect x="1080" y="372" width="1" height="27" fill="#ef5350"/><rect x="1079" y="373" width="3" height="3" fill="#ef5350"/>
<rect x="1085" y="369" width="1" height="38" fill="#ef5350"/><rect x="1084" y="375" width="3" height="26" fill="#ef5350"/>
<rect x="1091" y="390" width="1" height="13" fill="#26a69a"/><rect x="1090" y="395" width="3" height="6" fill="#26a69a"/>
<rect x="1097" y="392" width="1" height="12" fill="#ef5350"/><rect x="1096" y="395" width="3" height="6" fill="#ef5350"/>
<rect x="1103" y="398" width="1" height="23" fill="#ef5350"/><rect x="1102" y="400" width="3" height="16" fill="#ef5350"/>
<rect x="1108" y="406" width="1" height="31" fill="#ef5350"/><rect x="1107" y="415" width="3" height="14" fill="#ef5350"/>
<rect x="1114" y="414" width="1" height="18" fill="#26a69a"/><rect x="1113" y="417" width="3" height="12" fill="#26a69a"/>
<rect x="1120" y="405" width="1" height="16" fill="#26a69a"/><rect x="1119" y="414" width="3" height="4" fill="#26a69a"/>
<rect x="1125" y="407" width="1" height="15" fill="#ef5350"/><rect x="1124" y="414" width="3" height="5" fill="#ef5350"/>
<rect x="1131" y="396" width="1" height="23" fill="#26a69a"/><rect x="1130" y="398" width="3" height="21" fill="#26a69a"/>
<rect x="1137" y="393" width="1" height="37" fill="#ef5350"/><rect x="1136" y="398" width="3" height="24" fill="#ef5350"/>
<rect x="1142" y="413" width="1" height="14" fill="#26a69a"/><rect x="1141" y="419" width="3" height="3" fill="#26a69a"/>
<rect x="1148" y="418" width="1" height="18" fill="#ef5350"/><rect x="1147" y="419" width="3" height="12" fill="#ef5350"/>
<rect x="1154" y="429" width="1" height="12" fill="#ef5350"/><rect x="1153" y="430" width="3" height="8" fill="#ef5350"/>
<rect x="1160" y="431" width="1" height="53" fill="#ef5350"/><rect x="1159" y="437" width="3" height="40" fill="#ef5350"/>
<rect x="1165" y="451" width="1" height="32" fill="#26a69a"/><rect x="1164" y="463" width="3" height="14" fill="#26a69a"/>
<rect x="1171" y="457" width="1" height="79" fill="#ef5350"/><rect x="1170" y="463" width="3" height="48" fill="#ef5350"/>
<rect x="1177" y="504" width="1" height="45" fill="#ef5350"/><rect x="1176" y="510" width="3" height="16" fill="#ef5350"/>
<rect x="1182" y="486" width="1" height="41" fill="#26a69a"/><rect x="1181" y="507" width="3" height="19" fill="#26a69a"/>
<rect x="1188" y="498" width="1" height="22" fill="#26a69a"/><rect x="1187" y="505" width="3" height="3" fill="#26a69a"/>
<rect x="1194" y="494" width="1" height="17" fill="#26a69a"/><rect x="1193" y="495" width="3" height="11" fill="#26a69a"/>
<rect x="1200" y="495" width="1" height="19" fill="#ef5350"/><rect x="1199" y="495" width="3" height="13" fill="#ef5350"/>
<rect x="1205" y="499" width="1" height="11" fill="#26a69a"/><rect x="1204" y="500" width="3" height="8" fill="#26a69a"/>
<rect x="1211" y="497" width="1" height="20" fill="#ef5350"/><rect x="1210" y="500" width="3" height="17" fill="#ef5350"/>
<rect x="1217" y="506" width="1" height="17" fill="#26a69a"/><rect x="1216" y="508" width="3" height="9" fill="#26a69a"/>
<rect x="1222" y="498" width="1" height="19" fill="#ef5350"/><rect x="1221" y="508" width="3" height="9" fill="#ef5350"/>
</g>
<line x1="11" y1="516.5" x2="1318" y2="516.5" stroke="#ef5350" stroke-width="1" stroke-dasharray="1 2" shape-rendering="crispEdges"/>
<g clip-path="url(#cr)">
<polyline fill="none" stroke="#7e57c2" stroke-width="2" stroke-linejoin="round" points="7.0,677.6 13.0,644.0 19.0,674.0 24.0,674.0 30.0,671.5 36.0,677.6 42.0,670.6 47.0,663.6 53.0,717.4 59.0,685.2 64.0,674.0 70.0,672.9 76.0,660.3 81.0,671.2 87.0,651.9 93.0,625.8 99.0,630.9 104.0,653.0 110.0,656.1 116.0,633.4 121.0,612.7 127.0,625.8 133.0,656.6 138.0,648.8 144.0,659.4 150.0,659.4 156.0,660.0 161.0,667.8 167.0,703.4 173.0,699.2 178.0,718.8 184.0,695.3 190.0,691.9 196.0,706.5 201.0,714.1 207.0,698.6 213.0,710.7 218.0,705.1 224.0,737.9 230.0,735.1 235.0,721.9 241.0,711.3 247.0,706.5 253.0,709.9 258.0,716.9 264.0,735.1 270.0,756.1 275.0,765.3 281.0,752.4 287.0,755.2 293.0,727.2 298.0,728.6 304.0,746.3 310.0,723.9 315.0,723.9 321.0,741.2 327.0,725.3 332.0,716.3 338.0,723.9 344.0,726.9 350.0,709.3 355.0,704.2 361.0,680.4 367.0,650.5 372.0,647.7 378.0,632.8 384.0,672.6 389.0,667.0 395.0,669.2 401.0,666.4 407.0,699.2 412.0,711.3 418.0,700.6 424.0,703.7 429.0,692.5 435.0,688.8 441.0,700.6 447.0,704.8 452.0,724.7 458.0,721.1 464.0,726.7 469.0,733.9 475.0,728.3 481.0,733.7 486.0,711.3 492.0,692.5 498.0,707.6 504.0,704.2 509.0,699.8 515.0,700.3 521.0,709.9 526.0,716.3 532.0,723.3 538.0,732.8 544.0,765.9 549.0,777.1 555.0,751.3 561.0,756.1 566.0,751.3 572.0,750.2 578.0,754.1 583.0,751.9 589.0,745.4 595.0,752.4 601.0,737.0 606.0,725.3 612.0,739.5 618.0,730.0 623.0,690.5 629.0,682.7 635.0,670.6 640.0,602.0 646.0,589.4 652.0,594.2 658.0,623.0 663.0,658.9 669.0,636.5 675.0,644.6 680.0,647.1 686.0,629.2 692.0,637.0 698.0,669.8 703.0,663.6 709.0,649.6 715.0,670.1 720.0,697.8 726.0,690.0 732.0,698.4 737.0,698.9 743.0,667.3 749.0,674.8 755.0,686.9 760.0,663.1 766.0,662.0 772.0,667.8 777.0,676.2 783.0,692.8 789.0,674.3 795.0,686.3 800.0,688.8 806.0,688.3 812.0,666.2 817.0,680.4 823.0,651.6 829.0,659.7 834.0,672.0 840.0,665.6 846.0,670.1 852.0,658.0 857.0,656.9 863.0,655.5 869.0,644.0 874.0,653.3 880.0,637.9 886.0,638.4 891.0,637.6 897.0,635.1 903.0,650.8 909.0,645.1 914.0,630.6 920.0,627.2 926.0,633.4 931.0,631.1 937.0,672.3 943.0,663.1 949.0,666.2 954.0,651.9 960.0,666.7 966.0,674.8 971.0,713.8 977.0,691.6 983.0,710.4 988.0,704.5 994.0,709.3 1000.0,739.0 1006.0,723.0 1011.0,715.7 1017.0,713.5 1023.0,670.6 1028.0,674.0 1034.0,691.6 1040.0,679.9 1046.0,676.2 1051.0,691.6 1057.0,702.8 1063.0,710.7 1068.0,718.3 1074.0,722.2 1080.0,725.0 1085.0,749.9 1091.0,740.1 1097.0,744.3 1103.0,756.1 1108.0,768.1 1114.0,745.7 1120.0,738.4 1125.0,743.5 1131.0,706.2 1137.0,730.0 1142.0,727.2 1148.0,736.7 1154.0,743.5 1160.0,770.6 1165.0,749.9 1171.0,775.7 1177.0,782.1 1182.0,756.6 1188.0,754.1 1194.0,739.3 1200.0,747.1 1205.0,737.0 1211.0,747.4 1217.0,737.0 1222.0,742.9"/>
</g>
<g font-family="'Liberation Sans',sans-serif" font-size="12" fill="#131722">
<text x="1326.4" y="44.8" textLength="27.4" lengthAdjust="spacingAndGlyphs">USDT</text>
<text x="1328" y="82.85" textLength="35.2" lengthAdjust="spacingAndGlyphs">1.3000</text>
<text x="1328" y="131.85" textLength="35.2" lengthAdjust="spacingAndGlyphs">1.2000</text>
<text x="1328" y="180.85" textLength="35.2" lengthAdjust="spacingAndGlyphs">1.1000</text>
<text x="1328" y="229.85" textLength="35.2" lengthAdjust="spacingAndGlyphs">1.0000</text>
<text x="1328" y="278.85" textLength="35.2" lengthAdjust="spacingAndGlyphs">0.9000</text>
<text x="1328" y="326.85" textLength="35.2" lengthAdjust="spacingAndGlyphs">0.8000</text>
<text x="1328" y="375.85" textLength="35.2" lengthAdjust="spacingAndGlyphs">0.7000</text>
<text x="1328" y="424.85" textLength="35.2" lengthAdjust="spacingAndGlyphs">0.6000</text>
<text x="1328" y="571.85" textLength="35.2" lengthAdjust="spacingAndGlyphs">0.3000</text>
<text x="1328" y="604.85" textLength="29.4" lengthAdjust="spacingAndGlyphs">70.00</text>
<text x="1328" y="642.85" textLength="29.4" lengthAdjust="spacingAndGlyphs">60.00</text>
<text x="1328" y="679.85" textLength="29.4" lengthAdjust="spacingAndGlyphs">50.00</text>
<text x="1328" y="717.85" textLength="29.4" lengthAdjust="spacingAndGlyphs">40.00</text>
<text x="1328" y="791.85" textLength="29.4" lengthAdjust="spacingAndGlyphs">20.00</text>
<text x="1328" y="754.85" textLength="29.4" lengthAdjust="spacingAndGlyphs">30.00</text>
<text x="71.7" y="811.5" textLength="19.6" lengthAdjust="spacingAndGlyphs">Nov</text>
<text x="161.5" y="811.5" textLength="12" lengthAdjust="spacingAndGlyphs">16</text>
<text x="244.1" y="811.5" textLength="18.8" lengthAdjust="spacingAndGlyphs">Dec</text>
<text x="332.5" y="811.5" textLength="12" lengthAdjust="spacingAndGlyphs">16</text>
<text x="416.0" y="811.5" textLength="27" lengthAdjust="spacingAndGlyphs" stroke="#131722" stroke-width="0.55">2022</text>
<text x="515.5" y="811.5" textLength="12" lengthAdjust="spacingAndGlyphs">17</text>
<text x="597.0" y="811.5" textLength="19" lengthAdjust="spacingAndGlyphs">Feb</text>
<text x="757.0" y="811.5" textLength="19" lengthAdjust="spacingAndGlyphs">Mar</text>
<text x="846.5" y="811.5" textLength="12" lengthAdjust="spacingAndGlyphs">16</text>
<text x="934.5" y="811.5" textLength="18" lengthAdjust="spacingAndGlyphs">Apr</text>
<text x="1022.5" y="811.5" textLength="12" lengthAdjust="spacingAndGlyphs">16</text>
<text x="1103.8" y="811.5" textLength="21.5" lengthAdjust="spacingAndGlyphs">May</text>
<text x="1194.5" y="811.5" textLength="12" lengthAdjust="spacingAndGlyphs">16</text>
<text x="1282.5" y="811.5" textLength="18" lengthAdjust="spacingAndGlyphs">Jun</text>
</g>
<g font-family="'Liberation Sans',sans-serif" font-size="12" fill="#fff" stroke="#fff" stroke-width="0.3">
<path d="M1292,392H1317V409H1292Q1290,409 1290,407V394Q1290,392 1292,392Z" fill="#f44336" stroke="none"/><text x="1295.6" y="404.7" textLength="15.1" lengthAdjust="spacingAndGlyphs">MA</text>
<path d="M1318,392H1368Q1370,392 1370,394V407Q1370,409 1368,409H1318Z" fill="#f44336" stroke="none"/><text x="1328" y="404.7" textLength="35.2" lengthAdjust="spacingAndGlyphs">0.6424</text>
<path d="M1318,431H1368Q1370,431 1370,433V463Q1370,465 1368,465H1318Z" fill="#0000ff" stroke="none"/><text x="1328" y="444.2" textLength="35.2" lengthAdjust="spacingAndGlyphs">0.5500</text><text x="1328" y="461.3" textLength="35.2" lengthAdjust="spacingAndGlyphs">0.5000</text>
<path d="M1285,465H1317V482H1285Q1283,482 1283,480V467Q1283,465 1285,465Z" fill="#0d2f91" stroke="none"/><text x="1289.2" y="477.6" textLength="21.5" lengthAdjust="spacingAndGlyphs">EMA</text>
<path d="M1318,465H1368Q1370,465 1370,467V480Q1370,482 1368,482H1318Z" fill="#0d2f91" stroke="none"/><text x="1328" y="477.6" textLength="35.2" lengthAdjust="spacingAndGlyphs">0.4920</text>
<path d="M1259,508H1317V525H1259Q1257,525 1257,523V510Q1257,508 1259,508Z" fill="#ef5350" stroke="none"/><text x="1262.7" y="520.5" textLength="47.5" lengthAdjust="spacingAndGlyphs">XRPUSDT</text>
<path d="M1318,508H1379Q1381,508 1381,510V537Q1381,539 1379,539H1318Z" fill="#ef5350" stroke="none"/><text x="1328" y="520.5" textLength="35.6" lengthAdjust="spacingAndGlyphs">0.4050</text><text x="1328" y="534.6" textLength="46.3" lengthAdjust="spacingAndGlyphs" fill-opacity="0.82">06:47:25</text>
<path d="M1291,735H1317V752H1291Q1289,752 1289,750V737Q1289,735 1291,735Z" fill="#7e57c2" stroke="none"/><text x="1295.4" y="748" textLength="15.2" lengthAdjust="spacingAndGlyphs">RSI</text>
<path d="M1318,735H1362Q1364,735 1364,737V750Q1364,752 1362,752H1318Z" fill="#7e57c2" stroke="none"/><text x="1328.3" y="747.8" textLength="29.4" lengthAdjust="spacingAndGlyphs">32.04</text>
</g>
<rect x="1318" y="27" width="1" height="4" fill="#0000ff"/>
<g font-family="'Liberation Sans',sans-serif" font-size="12" fill="#131722">
<text y="18.8"><tspan x="10.7" textLength="58.2" lengthAdjust="spacingAndGlyphs">ranadagger</tspan> <tspan x="74.9" textLength="48.7" lengthAdjust="spacingAndGlyphs">published</tspan> <tspan x="129.3" textLength="12.2" lengthAdjust="spacingAndGlyphs">on</tspan> <tspan x="146.5" textLength="92.6" lengthAdjust="spacingAndGlyphs">TradingView.com,</tspan> <tspan x="243.9" textLength="19.7" lengthAdjust="spacingAndGlyphs">May</tspan> <tspan x="268.9" textLength="15.3" lengthAdjust="spacingAndGlyphs">20,</tspan> <tspan x="289.5" textLength="23.7" lengthAdjust="spacingAndGlyphs">2022</tspan> <tspan x="319.1" textLength="25.1" lengthAdjust="spacingAndGlyphs">17:12</tspan> <tspan x="351.3" textLength="21.0" lengthAdjust="spacingAndGlyphs">UTC</tspan></text>
<text y="46.4"><tspan x="17.9" textLength="20.1" lengthAdjust="spacingAndGlyphs">XRP</tspan> <tspan x="42.1" textLength="4.8" lengthAdjust="spacingAndGlyphs">/</tspan> <tspan x="51.9" textLength="52" lengthAdjust="spacingAndGlyphs">TetherUS,</tspan> <tspan x="108.9" textLength="14.9" lengthAdjust="spacingAndGlyphs">1D,</tspan> <tspan x="130.3" textLength="45" lengthAdjust="spacingAndGlyphs">BINANCE</tspan> <tspan x="182.8" textLength="7.8" lengthAdjust="spacingAndGlyphs">O</tspan><tspan x="191.2" textLength="35.5" lengthAdjust="spacingAndGlyphs" fill="#ef5350">0.4205</tspan> <tspan x="234.8" textLength="6.8" lengthAdjust="spacingAndGlyphs">H</tspan><tspan x="242.4" textLength="35.3" lengthAdjust="spacingAndGlyphs" fill="#ef5350">0.4407</tspan> <tspan x="285.8" textLength="5.1" lengthAdjust="spacingAndGlyphs">L</tspan><tspan x="291.5" textLength="34.1" lengthAdjust="spacingAndGlyphs" fill="#ef5350">0.4031</tspan> <tspan x="334.4" textLength="6.6" lengthAdjust="spacingAndGlyphs">C</tspan><tspan x="341.6" textLength="35.5" lengthAdjust="spacingAndGlyphs" fill="#ef5350">0.4050</tspan> <tspan x="385.2" textLength="41.2" lengthAdjust="spacingAndGlyphs" fill="#ef5350">−0.0155</tspan> <tspan x="431.6" textLength="43.8" lengthAdjust="spacingAndGlyphs" fill="#ef5350">(−3.69%)</tspan></text>
<text y="63.4"><tspan x="17.9" textLength="15.2" lengthAdjust="spacingAndGlyphs">MA</tspan> <tspan x="38.5" textLength="20.6" lengthAdjust="spacingAndGlyphs">(50,</tspan> <tspan x="62.3" textLength="30.8" lengthAdjust="spacingAndGlyphs">close,</tspan> <tspan x="97.6" textLength="9.8" lengthAdjust="spacingAndGlyphs">0)</tspan> <tspan x="115.7" textLength="35.4" lengthAdjust="spacingAndGlyphs" fill="#f44336">0.6424</tspan></text>
<text y="80.2"><tspan x="17.9" textLength="21.1" lengthAdjust="spacingAndGlyphs">EMA</tspan> <tspan x="44.8" textLength="20.6" lengthAdjust="spacingAndGlyphs">(20,</tspan> <tspan x="68.9" textLength="30.5" lengthAdjust="spacingAndGlyphs">close,</tspan> <tspan x="103.9" textLength="9.8" lengthAdjust="spacingAndGlyphs">0)</tspan> <tspan x="122.1" textLength="35.5" lengthAdjust="spacingAndGlyphs" fill="#1240b0">0.4920</tspan></text>
<text y="598.2"><tspan x="18.3" textLength="14.9" lengthAdjust="spacingAndGlyphs">RSI</tspan> <tspan x="38.4" textLength="19.3" lengthAdjust="spacingAndGlyphs">(14,</tspan> <tspan x="62.8" textLength="31.2" lengthAdjust="spacingAndGlyphs">close)</tspan> <tspan x="102" textLength="28.9" lengthAdjust="spacingAndGlyphs" fill="#7e57c2">32.04</tspan></text>
</g>
<g fill="#131722">
<path d="M10,834.3H18.05V843.9H14V838.35H10Z"/><circle cx="21.4" cy="836" r="1.7"/><path d="M24.6,834.3H29.1L25.6,843.9H21.1Z"/>
<text x="33.6" y="843.9" font-family="'Liberation Sans',sans-serif" font-size="13" textLength="69.5" lengthAdjust="spacingAndGlyphs">TradingView</text>
</g>
</svg>
</body></html>
